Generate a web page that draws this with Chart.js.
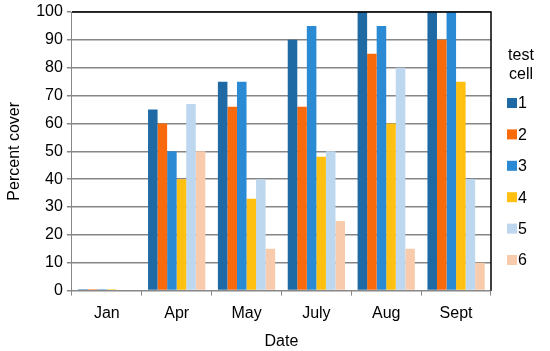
<!DOCTYPE html>
<html>
<head>
<meta charset="utf-8">
<script src="https://cdn.jsdelivr.net/npm/chart.js@4/dist/chart.umd.min.js"></script>
<style>
html,body{margin:0;padding:0;background:#fff;}
#wrap{width:550px;height:351px;position:relative;}
</style>
</head>
<body>
<div id="wrap"><canvas id="c"></canvas></div>
<script>
const categories = ["Jan", "Apr", "May", "July", "Aug", "Sept"];
const seriesNames = ["1", "2", "3", "4", "5", "6"];
const cell1 = [0.5, 65, 75, 90, 100, 100];
const cell2 = [0.5, 60, 66, 66, 85, 90];
const cell3 = [0.5, 50, 75, 95, 95, 100];
const cell4 = [0.5, 40, 33, 48, 60, 75];
const cell5 = [0.3, 67, 40, 50, 80, 40];
const cell6 = [0.3, 50, 15, 25, 15, 10];
const yTicks = [0, 10, 20, 30, 40, 50, 60, 70, 80, 90, 100];
const legendTitle = ["test", "cell"];
const colors = ["#1F6AA5", "#F96A0C", "#2A8AD4", "#FFC012", "#BDD7EE", "#F8CBAD"];

const FONT = "'Liberation Sans', Arial, sans-serif";
const allSeries = [cell1, cell2, cell3, cell4, cell5, cell6];

const frame = {
  id: 'frame',
  afterDatasetsDraw(chart) {
    const {ctx, chartArea: a} = chart;
    ctx.save();
    ctx.strokeStyle = '#000';
    ctx.lineWidth = 1.5;
    ctx.beginPath();
    ctx.moveTo(a.left, a.top);
    ctx.lineTo(a.right, a.top);
    ctx.lineTo(a.right, a.bottom);
    ctx.stroke();
    ctx.restore();
  }
};

const legendPlugin = {
  id: 'customLegend',
  afterDraw(chart) {
    const ctx = chart.ctx;
    ctx.save();
    ctx.font = "16px " + FONT;
    ctx.fillStyle = '#000';
    ctx.textBaseline = 'middle';
    ctx.textAlign = 'center';
    ctx.fillText(legendTitle[0], 521, 56);
    ctx.fillText(legendTitle[1], 521, 75);
    ctx.textAlign = 'left';
    chart.data.datasets.forEach((ds, i) => {
      const y = 103 + i * 31.4;
      ctx.fillStyle = ds.backgroundColor;
      ctx.fillRect(507, y - 5, 10, 10);
      ctx.fillStyle = '#000';
      ctx.fillText(ds.label, 518, y + 1);
    });
    ctx.restore();
  }
};

new Chart(document.getElementById('c'), {
  type: 'bar',
  data: {
    labels: categories,
    datasets: allSeries.map((d, i) => ({
      label: seriesNames[i],
      data: d,
      backgroundColor: colors[i],
      borderWidth: 0
    }))
  },
  options: {
    responsive: true,
    maintainAspectRatio: false,
    animation: false,
    devicePixelRatio: 1,
    layout: { padding: { top: 2, right: 59, left: 5, bottom: 0 } },
    datasets: { bar: { categoryPercentage: 0.82, barPercentage: 1.0 } },
    plugins: { legend: { display: false }, tooltip: { enabled: false } },
    scales: {
      x: {
        offset: true,
        grid: { display: true, drawOnChartArea: false, drawTicks: true, tickLength: 5, offset: true, color: '#888' },
        border: { color: '#888', width: 1 },
        ticks: { color: '#000', font: { size: 16, family: FONT }, padding: 8 },
        title: { display: true, text: 'Date', color: '#000', font: { size: 16, family: FONT }, padding: { top: 1, bottom: 0 } }
      },
      y: {
        min: 0, max: 100,
        afterBuildTicks(scale) { scale.ticks = yTicks.map(v => ({ value: v })); },
        grid: { color: '#868686', lineWidth: 1.5, drawTicks: true, tickLength: 5 },
        border: { color: '#888', width: 1 },
        ticks: { color: '#000', font: { size: 16, family: FONT, lineHeight: 1.0 }, padding: 4 },
        title: { display: true, text: 'Percent cover', color: '#000', font: { size: 16, family: FONT }, padding: { top: 0, bottom: 8 } }
      }
    }
  },
  plugins: [frame, legendPlugin]
});
</script>
</body>
</html>
